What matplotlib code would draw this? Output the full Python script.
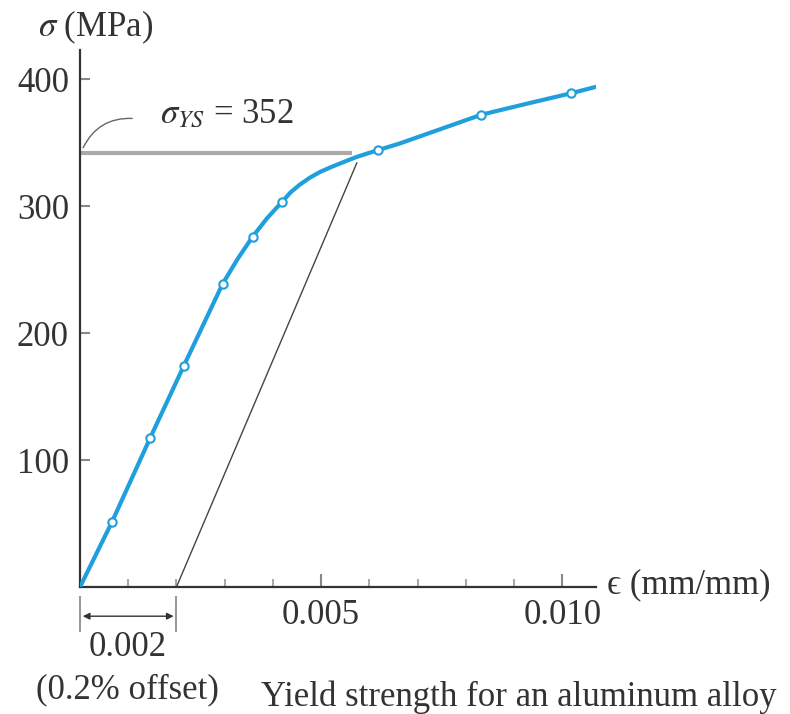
import numpy as np
import matplotlib
matplotlib.use('Agg')
import matplotlib.pyplot as plt
from matplotlib.patches import FancyArrowPatch

plt.rcParams['font.family'] = ['Liberation Serif', 'DejaVu Serif']
plt.rcParams['mathtext.fontset'] = 'stix'

# measured points (open circles)
strain_pts = [0.00066, 0.00145, 0.00215, 0.00296, 0.00358, 0.00418, 0.00617, 0.00832, 0.01019]
stress_pts = [51, 117, 174, 239, 276, 303, 344, 372, 389]

# curve
curve_strain = [0, 0.00066, 0.00145, 0.00215, 0.00296, 0.00327, 0.00358, 0.00388, 0.00418,
                0.00437, 0.00456, 0.00477, 0.00498, 0.00519, 0.00539, 0.00557, 0.00574,
                0.00596, 0.00617, 0.00664, 0.0075, 0.00832, 0.0093, 0.01019, 0.0107]
curve_stress = [0, 51, 117, 174, 239, 258.5, 276, 290.5, 303,
                311, 317, 322.5, 327, 330.5, 333.6, 336.3, 338.8,
                341.5, 344, 349.5, 361, 372, 381, 389, 394]

yield_stress = 342
yield_strain = 0.00563
offset = 0.002
offset_end = (0.00574, 334)

ytick_vals = [100, 200, 300, 400]
xtick_major = [0.005, 0.010]
xtick_labels = ['0.005', '0.010']
xtick_minor = [0.001, 0.002, 0.003, 0.004, 0.006, 0.007, 0.008, 0.009]

W, H = 790, 714
fig = plt.figure(figsize=(W / 100, H / 100), dpi=100)
ax = fig.add_axes([80 / W, 127 / H, 516 / W, 537 / H])
ax.set_xlim(0, 0.0107)
ax.set_ylim(0, 423)

blue = '#1f9fdc'
txt = '#333333'
fs = 25

ax.plot([0, yield_strain], [yield_stress, yield_stress], color='#aaaaaa', lw=3, zorder=1,
        solid_capstyle='butt')
ax.plot([offset, offset_end[0]], [0, offset_end[1]], color='#444444', lw=1, zorder=2)
ax.plot(curve_strain, curve_stress, color=blue, lw=3, zorder=3,
        solid_capstyle='round', solid_joinstyle='round')
ax.plot(strain_pts, stress_pts, 'o', ms=6, mfc='white', mec=blue, mew=1.5, zorder=4)

for s in ['top', 'right']:
    ax.spines[s].set_visible(False)
for s in ['left', 'bottom']:
    ax.spines[s].set_color('#333333')
    ax.spines[s].set_linewidth(1.6)

ax.set_yticks(ytick_vals)
ax.set_yticklabels([str(v) for v in ytick_vals])
ax.tick_params(axis='y', direction='in', length=7, width=1.5, color='#888888',
               labelsize=fs, labelcolor=txt, pad=8)
ax.set_xticks(xtick_major)
ax.set_xticklabels(xtick_labels)
ax.set_xticks(xtick_minor, minor=True)
ax.tick_params(axis='x', which='major', direction='in', length=9.5, width=1.5,
               color='#888888', labelsize=fs, labelcolor=txt, pad=9)
ax.tick_params(axis='x', which='minor', direction='in', length=6, width=1.5, color='#aaaaaa')

# leader to the yield value
ax.add_patch(FancyArrowPatch((0.00004, 344), (0.00114, 369), arrowstyle='-',
                             connectionstyle='arc3,rad=-0.35', color='#666666', lw=1))
ax.text(0.00166, 372, r'$\sigma_{YS}$ = 352', fontsize=fs, color=txt, va='center', ha='left')

# 0.2% offset dimension
for xv in [0, offset]:
    ax.plot([xv, xv], [-8, -35], color='#999999', lw=1.5, clip_on=False)
ax.annotate('', xy=(0, -23), xytext=(offset, -23),
            arrowprops=dict(arrowstyle='<|-|>', color='#333333', lw=1, mutation_scale=10),
            annotation_clip=False)

def ftext(x, y, s, **kw):
    fig.text(x / W, 1 - y / H, s, fontsize=fs, color=txt, **kw)

ftext(96, 27, r'$\sigma$ (MPa)', ha='center', va='center')
ftext(607, 585, '\u03f5 (mm/mm)', ha='left', va='center')
ftext(128, 648, '0.002', ha='center', va='center')
ftext(127, 690, '(0.2% offset)', ha='center', va='center')
ftext(777, 697, 'Yield strength for an aluminum alloy', ha='right', va='center')

fig.savefig('out.png', dpi=100)
